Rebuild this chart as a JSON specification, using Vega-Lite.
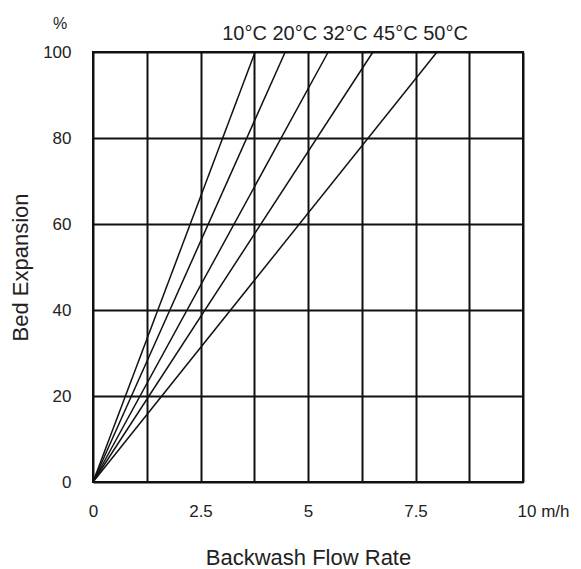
{
  "$schema": "https://vega.github.io/schema/vega-lite/v6.json",
  "width": 430,
  "height": 430,
  "autosize": "none",
  "padding": {"left": 93, "top": 52, "right": 58, "bottom": 87},
  "background": "white",
  "config": {
    "view": {"stroke": "#111", "strokeWidth": 2},
    "font": "Liberation Sans",
    "axis": {
      "grid": true,
      "gridColor": "#111",
      "gridWidth": 2,
      "gridOpacity": 1,
      "ticks": false,
      "domain": false,
      "labelColor": "#222",
      "labelFontSize": 17,
      "titleColor": "#222",
      "titleFontSize": 22,
      "titleFontWeight": "normal",
      "labelFlush": false,
      "labelOverlap": false
    }
  },
  "title": {
    "text": "10°C 20°C 32°C 45°C 50°C",
    "fontSize": 20,
    "fontWeight": "normal",
    "color": "#222",
    "anchor": "middle",
    "dx": 37,
    "dy": 38,
    "offset": 10
  },
  "layer": [
    {
      "data": {
        "values": [
          {"temp": "10°C", "rate": 0, "expansion": 0},
          {"temp": "10°C", "rate": 3.77, "expansion": 100},
          {"temp": "20°C", "rate": 0, "expansion": 0},
          {"temp": "20°C", "rate": 4.47, "expansion": 100},
          {"temp": "32°C", "rate": 0, "expansion": 0},
          {"temp": "32°C", "rate": 5.47, "expansion": 100},
          {"temp": "45°C", "rate": 0, "expansion": 0},
          {"temp": "45°C", "rate": 6.51, "expansion": 100},
          {"temp": "50°C", "rate": 0, "expansion": 0},
          {"temp": "50°C", "rate": 8.0, "expansion": 100}
        ]
      },
      "mark": {"type": "line", "color": "#111", "strokeWidth": 1.5},
      "encoding": {
        "x": {
          "field": "rate",
          "type": "quantitative",
          "scale": {"domain": [0, 10], "nice": false, "zero": true},
          "axis": {
            "values": [0, 1.25, 2.5, 3.75, 5, 6.25, 7.5, 8.75, 10],
            "labelExpr": "datum.value % 2.5 == 0 ? (datum.value == 10 ? '10 m/h' : '' + datum.value) : ''",
            "labelAlign": {"condition": {"test": "datum.value == 10", "value": "left"}, "value": "center"},
            "labelOffset": {"condition": {"test": "datum.value == 10", "value": -6}, "value": 0},
            "labelPadding": 21,
            "title": "Backwash Flow Rate",
            "titlePadding": 28
          }
        },
        "y": {
          "field": "expansion",
          "type": "quantitative",
          "scale": {"domain": [0, 100], "nice": false},
          "axis": {
            "values": [0, 20, 40, 60, 80, 100],
            "labelPadding": 22,
            "title": "Bed Expansion",
            "titlePadding": 10
          }
        },
        "detail": {"field": "temp"}
      }
    },
    {
      "data": {"values": [{"unit": "%"}]},
      "mark": {"type": "text", "fontSize": 16, "color": "#222", "dx": -33, "dy": -28, "align": "center", "baseline": "middle"},
      "encoding": {
        "x": {"datum": 0, "type": "quantitative"},
        "y": {"datum": 100, "type": "quantitative"},
        "text": {"field": "unit"}
      }
    }
  ]
}
